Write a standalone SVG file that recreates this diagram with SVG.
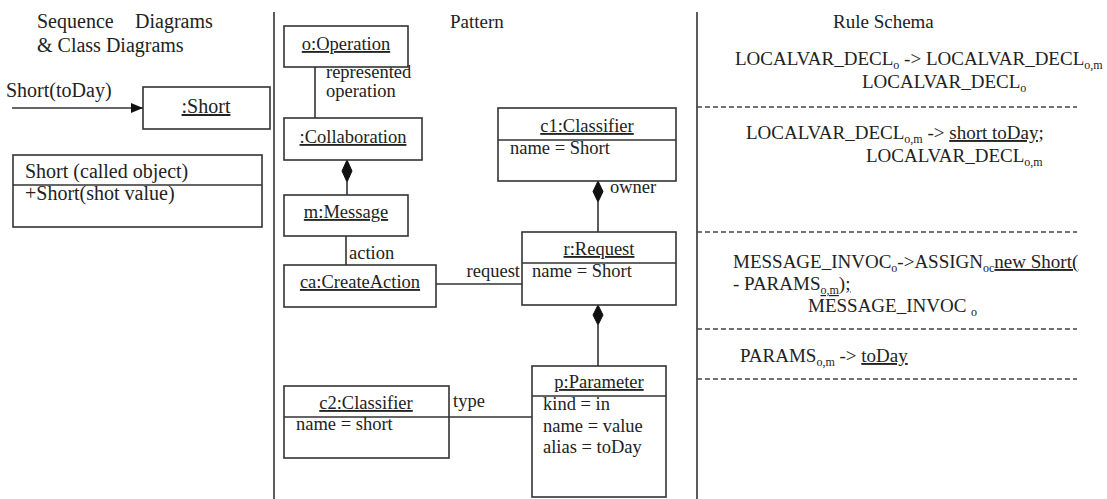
<svg xmlns="http://www.w3.org/2000/svg" width="1107" height="499" viewBox="0 0 1107 499">
  <style>
    text { font-family: "Liberation Serif", "Times New Roman", serif; fill: #222; }
    .t20 { font-size: 20px; }
    .t19 { font-size: 19px; }
    .t18 { font-size: 18.5px; }
    .u { text-decoration: underline; }
    .mid { text-anchor: middle; }
    .end { text-anchor: end; }
    .box { fill: none; stroke: #333; stroke-width: 1.6; }
    .ln { stroke: #333; stroke-width: 1.6; fill: none; }
    .dash { stroke: #444; stroke-width: 1.3; stroke-dasharray: 5 3; }
    .dia { fill: #111; stroke: #111; stroke-width: 1; }
  </style>
  <defs>
    <marker id="arrow" markerWidth="12" markerHeight="10" refX="12" refY="5" orient="auto" markerUnits="userSpaceOnUse">
      <path d="M0,0 L12,5 L0,10 Z" fill="#111"/>
    </marker>
  </defs>
  <rect width="1107" height="499" fill="#ffffff"/>

  <!-- column dividers -->
  <g id="dividers">
    <line class="ln" x1="274" y1="12" x2="274" y2="499"/>
    <line class="ln" x1="697" y1="12" x2="697" y2="499"/>
  </g>

  <!-- left column: sequence and class diagrams -->
  <g id="left-title">
    <text class="t20" y="28"><tspan x="37">Sequence</tspan><tspan x="135">Diagrams</tspan></text>
    <text class="t20" x="37" y="52">&amp; Class Diagrams</text>
  </g>
  <g id="call-message">
    <text class="t20" x="6" y="97">Short(toDay)</text>
    <line class="ln" x1="12" y1="108" x2="143" y2="108" marker-end="url(#arrow)"/>
  </g>
  <g id="short-lifeline">
    <rect class="box" x="143" y="87" width="127" height="42"/>
    <text class="t20 mid u" x="206" y="113">:Short</text>
  </g>
  <g id="short-class">
    <rect class="box" x="13" y="155" width="249" height="72"/>
    <line class="ln" x1="13" y1="185" x2="262" y2="185"/>
    <text class="t20" x="25" y="178">Short (called object)</text>
    <text class="t20" x="25" y="200">+Short(shot value)</text>
  </g>

  <!-- middle column: pattern -->
  <text class="t19" x="450" y="28">Pattern</text>

  <g id="connectors">
    <line class="ln" x1="315" y1="67" x2="315" y2="118"/>
    <path class="dia" d="M347,160 L352,171 L347,182 L342,171 Z"/>
    <line class="ln" x1="347" y1="182" x2="347" y2="195"/>
    <line class="ln" x1="346" y1="236" x2="346" y2="265"/>
    <line class="ln" x1="436" y1="284" x2="522" y2="284"/>
    <path class="dia" d="M598,181 L603,191.5 L598,202 L593,191.5 Z"/>
    <line class="ln" x1="598" y1="202" x2="598" y2="232"/>
    <path class="dia" d="M598,305 L603,315 L598,325 L593,315 Z"/>
    <line class="ln" x1="598" y1="325" x2="598" y2="366"/>
    <line class="ln" x1="449" y1="417" x2="532" y2="417"/>
    <text class="t18" x="326" y="78">represented</text>
    <text class="t18" x="326" y="97">operation</text>
    <text class="t18" x="349" y="259">action</text>
    <text class="t18 end" x="520" y="277">request</text>
    <text class="t18" x="610" y="193">owner</text>
    <text class="t18" x="453" y="407">type</text>
  </g>

  <g id="operation">
    <rect class="box" x="284" y="26" width="124" height="41"/>
    <text class="t18 mid u" x="346" y="50">o:Operation</text>
  </g>
  <g id="collaboration">
    <rect class="box" x="284" y="118" width="138" height="42"/>
    <text class="t18 mid u" x="353" y="143">:Collaboration</text>
  </g>
  <g id="message">
    <rect class="box" x="284" y="195" width="124" height="41"/>
    <text class="t18 mid u" x="346" y="218">m:Message</text>
  </g>
  <g id="create-action">
    <rect class="box" x="284" y="265" width="152" height="42"/>
    <text class="t18 mid u" x="360" y="288">ca:CreateAction</text>
  </g>
  <g id="classifier-c1">
    <rect class="box" x="498" y="108" width="178" height="73"/>
    <line class="ln" x1="498" y1="140" x2="676" y2="140"/>
    <text class="t18 mid u" x="587" y="132">c1:Classifier</text>
    <text class="t18" x="510" y="154">name = Short</text>
  </g>
  <g id="request">
    <rect class="box" x="522" y="232" width="154" height="73"/>
    <line class="ln" x1="522" y1="263" x2="676" y2="263"/>
    <text class="t18 mid u" x="599" y="255">r:Request</text>
    <text class="t18" x="532" y="277">name = Short</text>
  </g>
  <g id="classifier-c2">
    <rect class="box" x="284" y="386" width="165" height="72"/>
    <line class="ln" x1="284" y1="417" x2="449" y2="417"/>
    <text class="t18 mid u" x="366" y="409">c2:Classifier</text>
    <text class="t18" x="296" y="430">name = short</text>
  </g>
  <g id="parameter">
    <rect class="box" x="532" y="366" width="134" height="131"/>
    <line class="ln" x1="532" y1="396" x2="666" y2="396"/>
    <text class="t18 mid u" x="599" y="388">p:Parameter</text>
    <text class="t18" x="543" y="410">kind = in</text>
    <text class="t18" x="543" y="432">name = value</text>
    <text class="t18" x="543" y="453">alias = toDay</text>
  </g>

  <!-- right column: rule schema -->
  <g id="rule-schema">
    <text class="t19" x="833" y="28">Rule Schema</text>

    <text class="t19" x="735" y="65">LOCALVAR_DECL<tspan dy="4" font-size="12">o</tspan><tspan dy="-4"> -&gt; LOCALVAR_DECL</tspan><tspan dy="4" font-size="12">o,m</tspan></text>
    <text class="t19" x="862" y="88">LOCALVAR_DECL<tspan dy="4" font-size="12">o</tspan></text>
    <line class="dash" x1="697" y1="107" x2="1077" y2="107"/>

    <text class="t19" x="746" y="139">LOCALVAR_DECL<tspan dy="4" font-size="12">o,m</tspan><tspan dy="-4"> -&gt; </tspan><tspan class="u">short toDay;</tspan></text>
    <text class="t19" x="866" y="162">LOCALVAR_DECL<tspan dy="4" font-size="12">o,m</tspan></text>
    <line class="dash" x1="697" y1="232" x2="1077" y2="232"/>

    <text class="t19" x="733" y="268">MESSAGE_INVOC<tspan dy="4" font-size="12">o</tspan><tspan dy="-4">-&gt;ASSIGN</tspan><tspan dy="4" font-size="12">oc</tspan><tspan dy="-4" class="u">new Short(</tspan></text>
    <text class="t19" x="733" y="290">- PARAMS<tspan dy="4" font-size="12" class="u">o,m</tspan><tspan dy="-4" class="u">);</tspan></text>
    <text class="t19" x="808" y="312">MESSAGE_INVOC <tspan dy="4" font-size="12">o</tspan></text>
    <line class="dash" x1="697" y1="329" x2="1077" y2="329"/>

    <text class="t19" x="740" y="362">PARAMS<tspan dy="4" font-size="12">o,m</tspan><tspan dy="-4"> -&gt; </tspan><tspan class="u">toDay</tspan></text>
    <line class="dash" x1="697" y1="379" x2="1077" y2="379"/>
  </g>
</svg>
